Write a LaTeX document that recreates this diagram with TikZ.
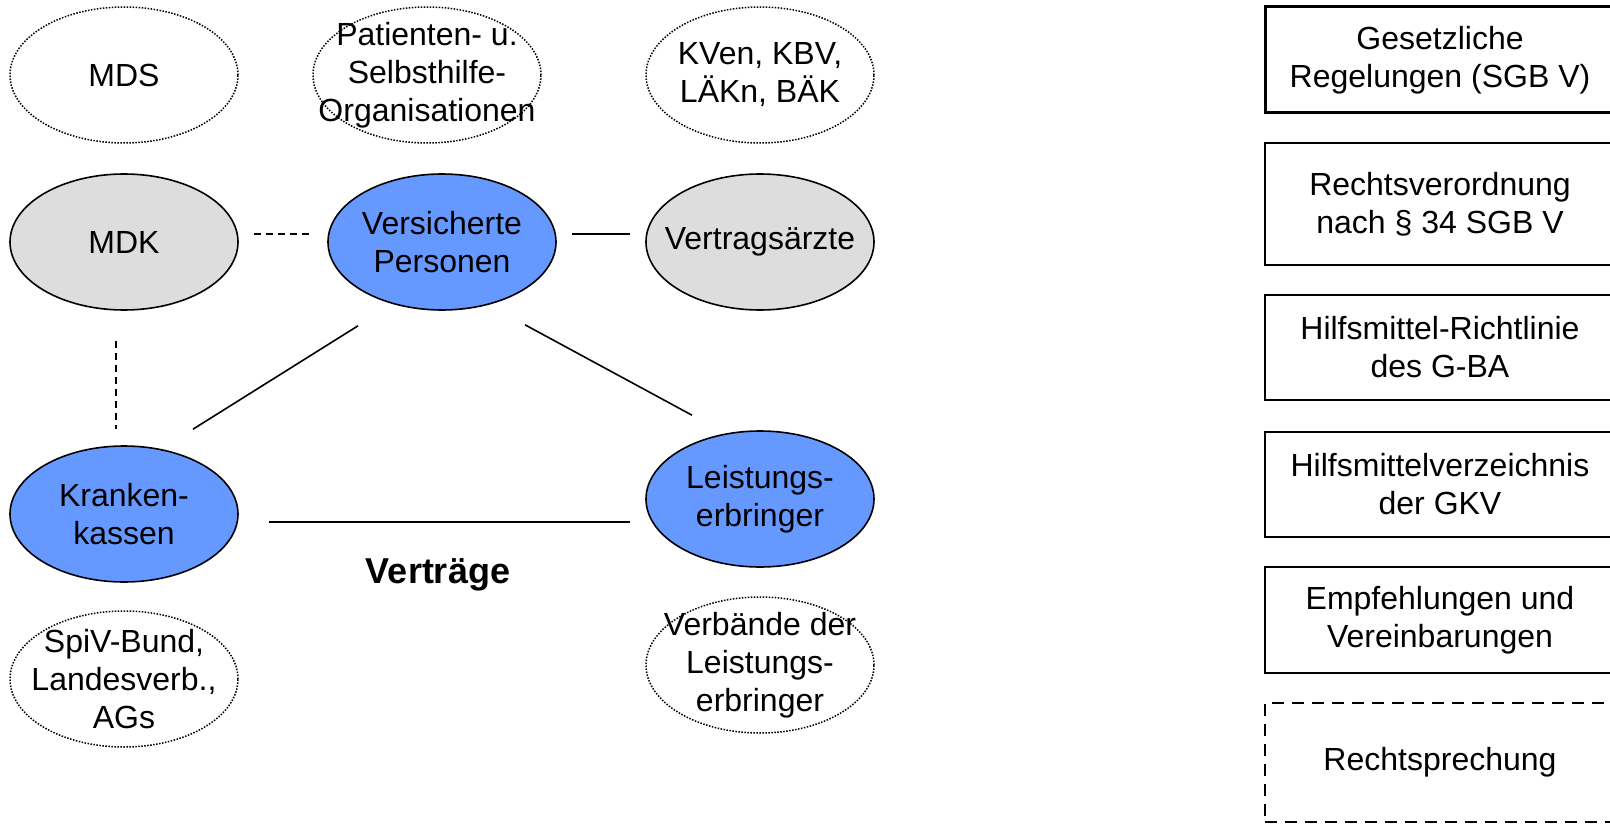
\documentclass[tikz,border=0pt]{standalone}
\usepackage{xcolor}
\usepackage{tikz}
\usepackage{fontspec}
\setmainfont{Liberation Sans}
\usetikzlibrary{shapes.geometric}

\begin{document}
\begin{tikzpicture}[x=1pt,y=-1pt]
	\tikzstyle{every node}=[font=\fontsize{32}{38}\selectfont]
	\tikzstyle{actor}=[ellipse, draw, line width=1.6, minimum width=228, minimum height=136, inner sep=0]
	\tikzstyle{blueactor}=[actor, fill={rgb,255:red,102; green,153; blue,255}]
	\tikzstyle{grayactor}=[actor, fill={rgb,255:red,221; green,221; blue,221}]
	\tikzstyle{verband}=[actor, line width=1.5, dash pattern=on 1.5 off 1.5]
	\tikzstyle{link}=[line width=1.6]
	\tikzstyle{dashlink}=[link, dash pattern=on 7 off 5]
	\tikzstyle{regel}=[draw, line width=2, minimum width=350, align=center]
	\clip (0,0) rectangle (1610,824);
	\node [verband, label={[align=center]center:MDS}] (mds) at (124,75) {};
	\node [verband, label={[align=center]center:{Patienten- u.\\Selbsthilfe-\\Organisationen}}] (patorg) at (427,75) {};
	\node [verband, label={[align=center]center:{KVen, KBV,\\LÄKn, BÄK}}] (kv) at (760,75) {};
	\node [grayactor, label={[align=center]center:MDK}] (mdk) at (124,242) {};
	\node [blueactor, label={[align=center]center:{Versicherte\\Personen}}] (vers) at (442,242) {};
	\node [grayactor, label={[align=center]center:Vertragsärzte}] (vae) at (760,242) {};
	\node [blueactor, label={[align=center]center:{Kranken-\\kassen}}] (kk) at (124,514) {};
	\node [blueactor, label={[align=center]center:{Leistungs-\\erbringer}}] (le) at (760,499) {};
	\node [verband, label={[align=center]center:{SpiV-Bund,\\Landesverb.,\\AGs}}] (spiv) at (124,679) {};
	\node [verband, label={[align=center]center:{Verbände der\\Leistungs-\\erbringer}}] (verble) at (760,665) {};
	\draw [dashlink] ([xshift=15,yshift=8]mdk.east) -- ([xshift=-15,yshift=8]vers.west);
	\draw [link] ([xshift=15,yshift=8]vers.east) -- ([xshift=-15,yshift=8]vae.west);
	\draw [dashlink] ([xshift=-8,yshift=-30]mdk.south) -- ([xshift=-8,yshift=16]kk.north);
	\draw [link] ([xshift=-84,yshift=-15]vers.south) -- ([xshift=69,yshift=16]kk.north);
	\draw [link] ([xshift=83,yshift=-14]vers.south) -- ([xshift=-68,yshift=15]le.north);
	\draw [link] ([xshift=30,yshift=-8]kk.east) -- ([xshift=-15,yshift=-23]le.west);
	\node [font=\bfseries\fontsize{36}{43}\selectfont, anchor=base] (vertraege) at (438,583) {Verträge};
	\node [regel, line width=3, minimum height=106] (sgb) at (1440,60) {Gesetzliche\\Regelungen (SGB V)};
	\node [regel, minimum height=122] (rvo) at (1440,204) {Rechtsverordnung\\nach § 34 SGB V};
	\node [regel, minimum height=105] (hmrl) at (1440,347.5) {Hilfsmittel-Richtlinie\\des G-BA};
	\node [regel, minimum height=105] (hmv) at (1440,484.5) {Hilfsmittelverzeichnis\\der GKV};
	\node [regel, minimum height=106] (empf) at (1440,620) {Empfehlungen und\\Vereinbarungen};
	\node [regel, line width=2.6, dash pattern=on 12 off 8, minimum height=119] (recht) at (1440,762.5) {Rechtsprechung};
\end{tikzpicture}
\end{document}
